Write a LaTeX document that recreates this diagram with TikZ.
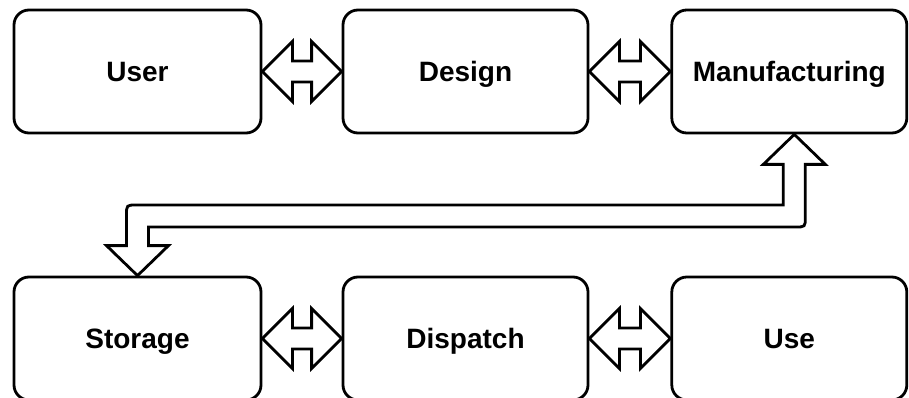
\documentclass[tikz,border=0pt]{standalone}
\usepackage{fontspec}
\setmainfont{Liberation Sans}
\usetikzlibrary{calc}
\newcommand\dbarrowpath[2]{%
  \draw[flex] (#1.east) -- ++(30,-30) -- ++(0,19.5) -- ($(#2.west)+(-30,-10.5)$) -- ++(0,-19.5) -- (#2.west) -- ++(-30,30) -- ++(0,-19.5) -- ($(#1.east)+(30,10.5)$) -- ++(0,19.5) -- cycle;}
\begin{document}
\begin{tikzpicture}[x=1pt,y=-1pt,
  box/.style={draw, line width=2.8pt, rounded corners=15pt, minimum height=123pt,
    inner sep=0pt, text height=19.5pt, text depth=0pt,
    font=\fontsize{28}{33}\selectfont\bfseries},
  flex/.style={draw, line width=2.8pt, fill=white, line join=miter}]
\clip (0,0) rectangle (909,398);
\fill[white] (0,0) rectangle (909,398);
% top row
\node[box, minimum width=247pt] (user) at (137.5,71.5) {User};
\node[box, minimum width=245pt] (design) at (465.5,71.5) {Design};
\node[box, minimum width=235pt] (manu) at (789.3,71.5) {Manufacturing};
% bottom row
\node[box, minimum width=247pt] (st) at (137.5,338.5) {Storage};
\node[box, minimum width=245pt] (disp) at (465.5,338.5) {Dispatch};
\node[box, minimum width=235pt] (use) at (789.3,338.5) {Use};
% double arrows
\dbarrowpath{user}{design}
\dbarrowpath{design}{manu}
\dbarrowpath{st}{disp}
\dbarrowpath{disp}{use}
% big L-shaped arrow
\coordinate (T) at ($(manu.south)+(5,0)$);
\coordinate (S) at (st.north);
\coordinate (H) at (0,216);
\draw[flex] (T) -- ($(T)+(31,30)$) -- ($(T)+(11,30)$)
  -- ($(T|-H)+(11,1)$) .. controls ($(T|-H)+(11,11)$) .. ($(T|-H)+(1,11)$)
  -- ($(S|-H)+(11,11)$) -- ($(S)+(11,-30)$) -- ($(S)+(31,-30)$) -- (S)
  -- ($(S)+(-31,-30)$) -- ($(S)+(-11,-30)$)
  -- ($(S|-H)+(-11,-1)$) .. controls ($(S|-H)+(-11,-11)$) .. ($(S|-H)+(-1,-11)$)
  -- ($(T|-H)+(-11,-11)$) -- ($(T)+(-11,30)$) -- ($(T)+(-31,30)$) -- cycle;
\end{tikzpicture}
\end{document}
